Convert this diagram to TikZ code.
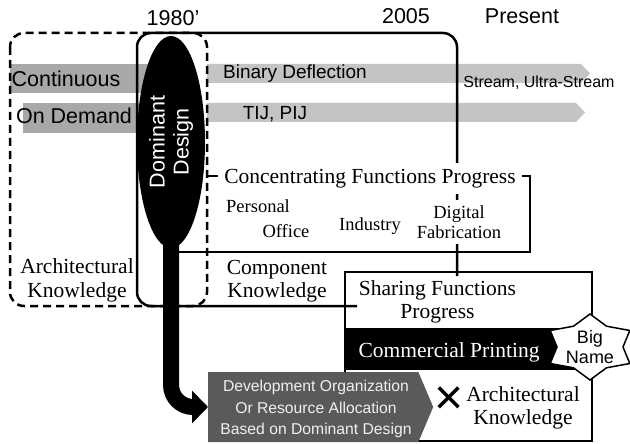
\documentclass[tikz,border=0pt]{standalone}
\usepackage{fontspec}
\setmainfont{Liberation Serif}
\setsansfont{Liberation Sans}
\usetikzlibrary{shapes.geometric,shapes.symbols,arrows.meta}
\definecolor{bandleft}{HTML}{A8A8A8}
\definecolor{bandright}{HTML}{C4C4C4}
\definecolor{devfill}{HTML}{5A5A5A}
\definecolor{devtext}{HTML}{F0F0F0}
\begin{document}
\begin{tikzpicture}[x=1pt,y=-1pt,
  frame/.style={line width=2.5pt},
  dframe/.style={line width=2.5pt,dash pattern=on 8pt off 5pt},
  serifL/.style={font=\fontsize{21.5}{23.5}\selectfont, inner sep=0pt},
  serifM/.style={font=\fontsize{18.5}{20}\selectfont, inner sep=0pt},
  sansL/.style={font=\sffamily\fontsize{21.5}{24}\selectfont, inner sep=0pt},
  sansB/.style={font=\sffamily\fontsize{19}{22}\selectfont, inner sep=0pt},
  sansM/.style={font=\sffamily\fontsize{18}{20}\selectfont, inner sep=0pt},
  sansS/.style={font=\sffamily\fontsize{15.7}{21.3}\selectfont, inner sep=0pt},
  lbl/.style={anchor=base}
]
\useasboundingbox (0,0) rectangle (630,444);
\fill[white] (0,0) rectangle (630,444);

% gray technology bands
\fill[bandleft] (10,64) rectangle (172,93);
\fill[bandleft] (23,103) rectangle (172,133);
\fill[bandright] (207,64) -- (581,64) -- (590,73.5) -- (581,83) -- (207,83) -- cycle;
\fill[bandright] (207,103) -- (576,103) -- (585,112.5) -- (576,122) -- (207,122) -- cycle;

% frames
\draw[dframe, rounded corners=14pt] (10,33) rectangle (207,306);
\draw[frame, rounded corners=14pt] (357,306) -- (137,306) -- (137,33) -- (457,33) -- (457,276);
\draw[frame] (207,176) -- (530,176) -- (530,252) -- (172,252);

% timeline labels
\node (y1980) [sansL, lbl] at (173,26) {1980’};
\node (y2005) [sansL, lbl] at (406,24) {2005};
\node (present) [sansL, lbl] at (522,24) {Present};
\node (cont) [sansL, lbl] at (66,87) {Continuous};
\node (ondem) [sansL, lbl] at (74,124) {On Demand};
\node (binary) [sansB, lbl] at (295,79) {Binary Deflection};
\node (tij) [sansB, lbl] at (275,120) {TIJ, PIJ};
\node (stream) [font=\sffamily\fontsize{16}{18}\selectfont, inner sep=0pt, lbl] at (539,88) {Stream, Ultra-Stream};

% concentrating functions
\node (concen) [serifL, lbl, fill=white, inner xsep=6pt, inner ysep=6pt] at (370,183) {Concentrating Functions Progress};
\node (personal) [serifM, lbl] at (258,212) {Personal};
\node (office) [serifM, lbl] at (286,237) {Office};
\node (industry) [serifM, lbl] at (370,230) {Industry};
\node (digfab) [serifM, align=center, fill=white, inner xsep=3pt, inner ysep=5pt] at (459,222) {Digital\\Fabrication};

% knowledge labels
\node (arch1) [serifL, lbl] at (77,273) {Architectural};
\node (arch2) [serifL, lbl] at (77,297) {Knowledge};
\node (comp1) [serifL, lbl] at (277,274) {Component};
\node (comp2) [serifL, lbl] at (277,297) {Knowledge};

% sharing functions box
\node (share) [draw, line width=2.5pt, minimum width=247pt, minimum height=169pt, inner sep=0pt] at (468.5,356.5) {};
\node (share1) [serifL, lbl] at (437.5,295) {Sharing Functions};
\node (share2) [serifL, lbl] at (437.5,318) {Progress};
\node (cpband) [fill=black, minimum width=232pt, minimum height=42pt, inner sep=0pt, anchor=west] at (345,349) {};
\node (cp) [serifL, lbl, text=white] at (449,357) {Commercial Printing};
\draw[line width=1.5pt, fill=white] (590,314) -- (573.5,326.2) -- (550.2,330.5) -- (557,347) -- (550.2,363.5) -- (573.5,367.8) -- (590,380) -- (606.5,367.8) -- (629.8,363.5) -- (623,347) -- (629.8,330.5) -- (606.5,326.2) -- cycle;
\node (big) [sansM, align=center] at (590,347) {Big\\Name};

% dominant design and its arrow
\node (dd) [ellipse, fill=black, rotate=90, minimum width=212pt, minimum height=68pt, inner sep=0pt, text=white, align=center, sansL] at (171,142) {Dominant\\Design};
\node (dev) [signal, signal to=east, signal pointer angle=134, fill=devfill, minimum width=225pt, minimum height=70pt, inner sep=0pt, anchor=west] at (208,407) {};
\node (devtxt) [text=devtext, align=center, sansS] at (316,409) {Development Organization\\Or Resource Allocation\\Based on Dominant Design};
\draw[line width=16pt, rounded corners=22pt, -{Triangle[width=32pt,length=16pt]}] ([yshift=-85pt]dd.center) |- (dev.west);

% architectural knowledge result
\node (cross) [font=\sffamily\fontsize{50}{50}\selectfont, inner sep=0pt] at (449,401) {×};
\node (arch3) [serifL, lbl] at (523,401) {Architectural};
\node (arch4) [serifL, lbl] at (523,424) {Knowledge};
\end{tikzpicture}
\end{document}
